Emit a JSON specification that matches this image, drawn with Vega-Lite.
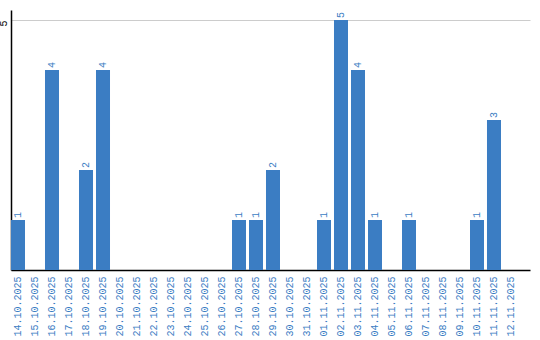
{
  "$schema": "https://vega.github.io/schema/vega-lite/v6.json",
  "width": 519,
  "height": 260,
  "autosize": "none",
  "padding": {"left": 11, "top": 10, "right": 10, "bottom": 70},
  "config": {"view": {"stroke": null}},
  "data": {"values": [
    {"date": "14.10.2025", "count": 1},
    {"date": "15.10.2025", "count": 0},
    {"date": "16.10.2025", "count": 4},
    {"date": "17.10.2025", "count": 0},
    {"date": "18.10.2025", "count": 2},
    {"date": "19.10.2025", "count": 4},
    {"date": "20.10.2025", "count": 0},
    {"date": "21.10.2025", "count": 0},
    {"date": "22.10.2025", "count": 0},
    {"date": "23.10.2025", "count": 0},
    {"date": "24.10.2025", "count": 0},
    {"date": "25.10.2025", "count": 0},
    {"date": "26.10.2025", "count": 0},
    {"date": "27.10.2025", "count": 1},
    {"date": "28.10.2025", "count": 1},
    {"date": "29.10.2025", "count": 2},
    {"date": "30.10.2025", "count": 0},
    {"date": "31.10.2025", "count": 0},
    {"date": "01.11.2025", "count": 1},
    {"date": "02.11.2025", "count": 5},
    {"date": "03.11.2025", "count": 4},
    {"date": "04.11.2025", "count": 1},
    {"date": "05.11.2025", "count": 0},
    {"date": "06.11.2025", "count": 1},
    {"date": "07.11.2025", "count": 0},
    {"date": "08.11.2025", "count": 0},
    {"date": "09.11.2025", "count": 0},
    {"date": "10.11.2025", "count": 1},
    {"date": "11.11.2025", "count": 3},
    {"date": "12.11.2025", "count": 0}
  ]},
  "encoding": {
    "x": {
      "field": "date", "type": "ordinal", "sort": null,
      "scale": {"paddingInner": 0.176, "paddingOuter": 0.353, "align": 0},
      "axis": {
        "title": null, "labelAngle": -90, "labelAlign": "right", "labelBaseline": "middle",
        "ticks": false, "labelPadding": 6, "labelColor": "#3b7dc3",
        "labelFont": "Liberation Mono", "labelFontSize": 10,
        "domainColor": "#000000", "domainWidth": 1.5, "labelOverlap": false
      }
    },
    "y": {
      "field": "count", "type": "quantitative",
      "scale": {"domain": [0, 5.2], "nice": false},
      "axis": {
        "title": null, "values": [5], "grid": true, "gridColor": "#cccccc",
        "ticks": false, "labelAngle": -90, "labelAlign": "right", "labelBaseline": "bottom",
        "labelPadding": 3, "labelFont": "Liberation Mono", "labelFontSize": 10,
        "labelColor": "#000000", "domainColor": "#000000", "domainWidth": 1.5
      }
    }
  },
  "layer": [
    {"mark": {"type": "bar", "color": "#3b7dc3"}},
    {
      "transform": [{"filter": "datum.count > 0"}],
      "mark": {"type": "text", "angle": 270, "align": "left", "baseline": "middle", "dx": 2,
               "font": "Liberation Mono", "fontSize": 10, "color": "#3b7dc3"},
      "encoding": {"text": {"field": "count", "type": "quantitative"}}
    }
  ]
}
